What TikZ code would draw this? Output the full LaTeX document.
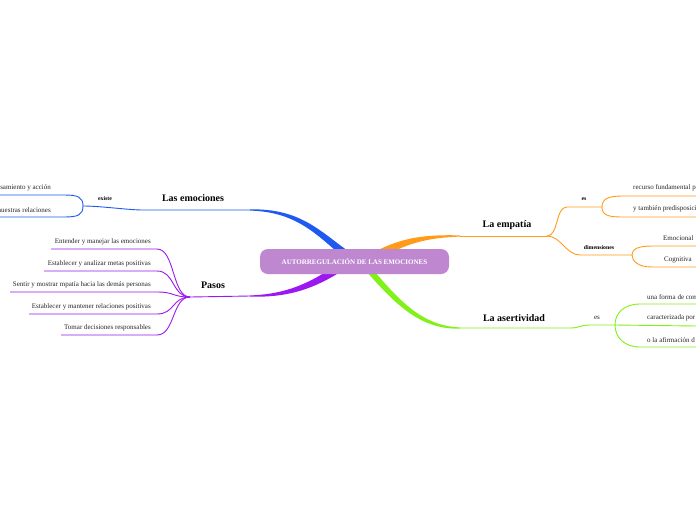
\documentclass[tikz,border=0pt]{standalone}
\usepackage{fontspec}
\setmainfont{Liberation Serif}
\usetikzlibrary{calc}

\definecolor{emoblue}{RGB}{30,90,240}
\definecolor{pasviolet}{RGB}{155,25,240}
\definecolor{empor}{RGB}{255,155,25}
\definecolor{asegreen}{RGB}{130,240,25}
\definecolor{corelilac}{RGB}{190,135,208}

% tapered main branch: colour, outer end, control 1, control 2, inner end
\newcommand{\taper}[5]{%
  \fill[#1] ($(#2)+(0,-0.6)$) .. controls ($(#3)+(0,-1.8)$) and ($(#4)+(0,-3.8)$) .. ($(#5)+(0,-5)$)
    -- ($(#5)+(0,5)$) .. controls ($(#4)+(0,3.8)$) and ($(#3)+(0,1.8)$) .. ($(#2)+(0,0.6)$) -- cycle;}

\begin{document}
\begin{tikzpicture}[x=1pt,y=-1pt,
    topic/.style={font=\bfseries\fontsize{10}{12}\selectfont,inner sep=0pt},
    leaf/.style={font=\fontsize{7}{8}\selectfont,text=black!85,inner sep=0pt},
    rel/.style={font=\bfseries\fontsize{5.8}{7}\selectfont,inner sep=0pt},
    link/.style={line width=0.9pt}]

    \fill[white] (0,0) rectangle (696,520);
    \useasboundingbox (0,0) rectangle (696,520);

    % main branches
    \coordinate (emo-a) at (250,210);
    \coordinate (emo-c1) at (300,210);
    \coordinate (emo-c2) at (320,235);
    \coordinate (emo-z) at (348,256);
    \taper{emoblue}{emo-a}{emo-c1}{emo-c2}{emo-z}

    \coordinate (pas-a) at (250,296);
    \coordinate (pas-c1) at (290,296);
    \coordinate (pas-c2) at (315,284);
    \coordinate (pas-z) at (342,266);
    \taper{pasviolet}{pas-a}{pas-c1}{pas-c2}{pas-z}

    \coordinate (emp-a) at (460,236);
    \coordinate (emp-c1) at (420,236);
    \coordinate (emp-c2) at (400,243);
    \coordinate (emp-z) at (376,256);
    \taper{empor}{emp-a}{emp-c1}{emp-c2}{emp-z}

    \coordinate (ase-a) at (460,328);
    \coordinate (ase-c1) at (420,328);
    \coordinate (ase-c2) at (395,300);
    \coordinate (ase-z) at (366,266);
    \taper{asegreen}{ase-a}{ase-c1}{ase-c2}{ase-z}

    \node[fill=corelilac, rounded corners=8pt, minimum width=189pt, minimum height=25pt,
          text=white, font=\bfseries\fontsize{7}{8}\selectfont] (core) at (354.5,261.5)
          {AUTORREGULACIÓN DE LAS EMOCIONES};

    % Las emociones
    \node[topic] (emociones) at (193,198) {Las emociones};
    \coordinate (emo-b) at (143,210);
    \coordinate (emo-j) at (83,206);
    \draw[link,emoblue] (emo-a) -- (emo-b) .. controls +(-15,0) and +(18,0) .. (emo-j);
    \node[rel] (existe) at (105,199) {existe};
    \coordinate (emo-t1) at (64,195);
    \coordinate (emo-t2) at (64,217);
    \draw[link,emoblue] (emo-j) .. controls +(0,-9) and +(14,0) .. (emo-t1) -- (0,195);
    \draw[link,emoblue] (emo-j) .. controls +(0,9) and +(14,0) .. (emo-t2) -- (0,217);
    \node[leaf,anchor=east] (pensamiento) at (51,188) {pensamiento y acción};
    \node[leaf,anchor=east] (relaciones) at (51,210) {nuestras relaciones};

    % Pasos
    \node[topic] (pasos) at (213,285) {Pasos};
    \coordinate (pas-j) at (190,297);
    \draw[link,pasviolet] (pas-a) -- (pas-j);
    \foreach \y/\xs/\txt [count=\i] in {
        242/51/Entender y manejar las emociones,
        264/44/Establecer y analizar metas positivas,
        285/10/Sentir y mostrar mpatía hacia las demás personas,
        307/29/Establecer y mantener relaciones positivas,
        328/61/Tomar decisiones responsables} {
        \coordinate (pas-e\i) at (157,\y+7);
        \draw[link,pasviolet] (pas-j) .. controls +(-18,0) and +(18,0) .. (pas-e\i) -- (\xs,\y+7);
        \node[leaf,anchor=east] (paso\i) at (151,\y) {\txt};
    }

    % La empatía
    \node[topic] (empatia) at (507,225) {La empatía};
    \coordinate (emp-j) at (547,236);
    \draw[link,empor] (emp-a) -- (emp-j);
    \coordinate (emp-s1) at (567,207);
    \coordinate (emp-s1j) at (602,207);
    \draw[link,empor] (emp-j) .. controls +(12,0) and +(-12,0) .. (emp-s1) -- (emp-s1j);
    \node[rel] (es1) at (584,199) {es};
    \draw[link,empor] (emp-s1j) .. controls +(0,-8) and +(-14,0) .. (622,196) -- (696,196);
    \draw[link,empor] (emp-s1j) .. controls +(0,8) and +(-14,0) .. (622,217) -- (696,217);
    \node[leaf,anchor=west] (recurso) at (633,188) {recurso fundamental p};
    \node[leaf,anchor=west] (predisp) at (633,209) {y también predisposición};

    \coordinate (emp-s2) at (580,255);
    \coordinate (emp-s2j) at (632,255);
    \draw[link,empor] (emp-j) .. controls +(14,0) and +(-14,0) .. (emp-s2) -- (emp-s2j);
    \node[rel] (dimensiones) at (599,248) {dimensiones};
    \draw[link,empor] (emp-s2j) .. controls +(0,-6) and +(-14,0) .. (652,246) -- (696,246);
    \draw[link,empor] (emp-s2j) .. controls +(0,6) and +(-14,0) .. (652,267) -- (696,267);
    \node[leaf,anchor=west] (emocional) at (663,238) {Emocional};
    \node[leaf,anchor=west] (cognitiva) at (664,260) {Cognitiva};

    % La asertividad
    \node[topic] (asertividad) at (514,318) {La asertividad};
    \coordinate (ase-b) at (570,328);
    \coordinate (ase-s) at (590,325);
    \coordinate (ase-j) at (615,325);
    \draw[link,asegreen] (ase-a) -- (ase-b) .. controls +(10,0) and +(-10,0) .. (ase-s) -- (ase-j);
    \node[leaf] (es2) at (597,318) {es};
    \draw[link,asegreen] (ase-j) .. controls +(0,-12) and +(-16,0) .. (640,304) -- (696,304);
    \draw[link,asegreen] (ase-j) -- (696,326);
    \draw[link,asegreen] (ase-j) .. controls +(0,12) and +(-16,0) .. (640,347) -- (696,347);
    \node[leaf,anchor=west] (forma) at (647,297) {una forma de com};
    \node[leaf,anchor=west] (caract) at (647,318) {caracterizada por};
    \node[leaf,anchor=west] (afirm) at (647,340) {o la afirmación d};
\end{tikzpicture}
\end{document}
